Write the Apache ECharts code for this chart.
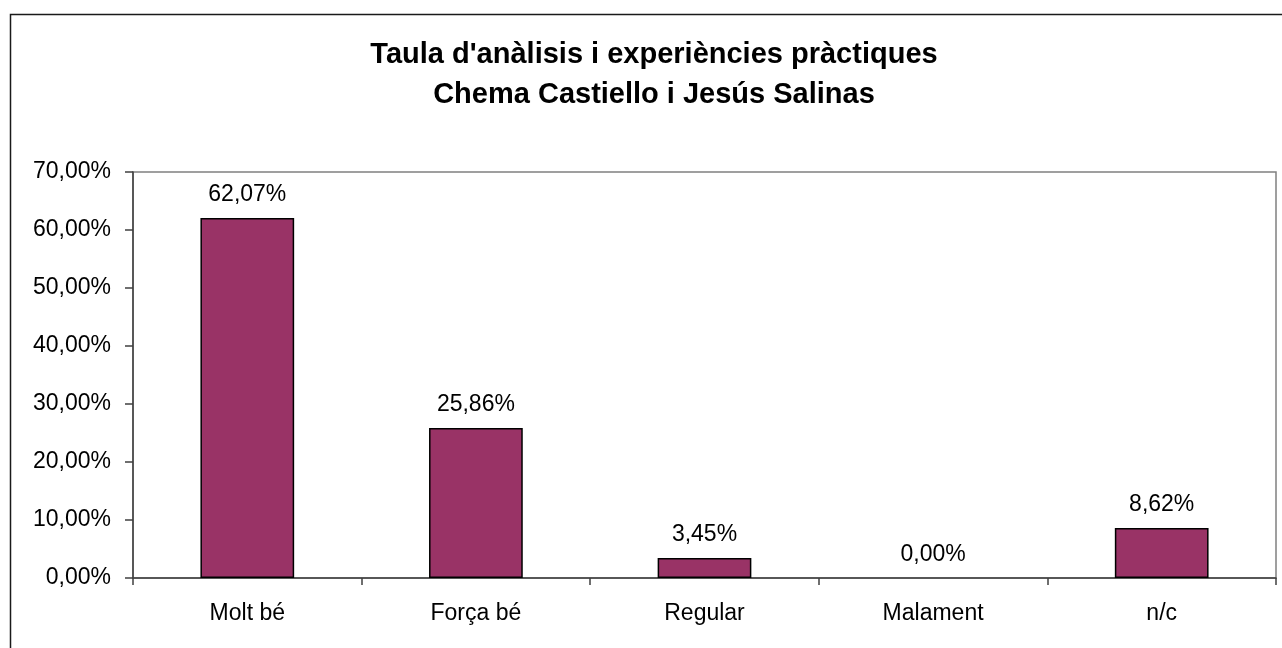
<!DOCTYPE html>
<html>
<head>
<meta charset="utf-8">
<script src="https://cdn.jsdelivr.net/npm/echarts@6/dist/echarts.min.js"></script>
<style>
html,body{margin:0;padding:0;background:#fff;}
#chart{width:1282px;height:648px;}
</style>
</head>
<body>
<div id="chart"></div>
<script>
const titleLines = ["Taula d'anàlisis i experiències pràctiques", "Chema Castiello i Jesús Salinas"];
const categories = ["Molt bé", "Força bé", "Regular", "Malament", "n/c"];
const values = [62.07, 25.86, 3.45, 0.00, 8.62];
const yMin = 0, yMax = 70, yInterval = 10;

const fmt = v => v.toFixed(2).replace('.', ',') + '%';
const font = "'Liberation Sans', Arial, sans-serif";

const chart = echarts.init(document.getElementById('chart'), null, {renderer: 'canvas'});
chart.setOption({
  animation: false,
  backgroundColor: '#ffffff',
  graphic: [{
    type: 'rect',
    shape: {x: 10.5, y: 14.5, width: 1290, height: 650},
    style: {fill: 'none', stroke: '#1a1a1a', lineWidth: 1.5},
    silent: true, z: -1
  }],
  title: {
    text: titleLines.join('\n'),
    left: 654,
    textAlign: 'center',
    top: 35,
    padding: 0,
    textStyle: {fontFamily: font, fontSize: 29, fontWeight: 'bold', color: '#000', lineHeight: 40}
  },
  grid: {
    left: 133, right: 6, top: 172, bottom: 70,
    show: true, borderColor: '#808080', borderWidth: 1.5, backgroundColor: 'transparent'
  },
  xAxis: {
    type: 'category',
    data: categories,
    axisLine: {lineStyle: {color: '#404040', width: 1.5}},
    axisTick: {show: true, alignWithLabel: false, length: 7, lineStyle: {color: '#404040', width: 1.5}},
    axisLabel: {fontFamily: font, fontSize: 23, color: '#000', margin: 24},
    splitLine: {show: false}
  },
  yAxis: {
    type: 'value',
    min: yMin, max: yMax, interval: yInterval,
    axisLine: {show: true, lineStyle: {color: '#404040', width: 1.5}},
    axisTick: {show: true, length: 8, lineStyle: {color: '#404040', width: 1.5}},
    axisLabel: {fontFamily: font, fontSize: 23, color: '#000', margin: 22, formatter: v => fmt(v)},
    splitLine: {show: false}
  },
  series: [{
    type: 'bar',
    data: values.map(v => v === 0 ? {value: v, itemStyle: {borderWidth: 0}} : v),
    barWidth: '41%',
    itemStyle: {color: '#993366', borderColor: '#000', borderWidth: 1.5},
    label: {
      show: true, position: 'top', distance: 12,
      fontFamily: font, fontSize: 23, color: '#000',
      formatter: p => fmt(p.value)
    }
  }]
});
</script>
</body>
</html>
